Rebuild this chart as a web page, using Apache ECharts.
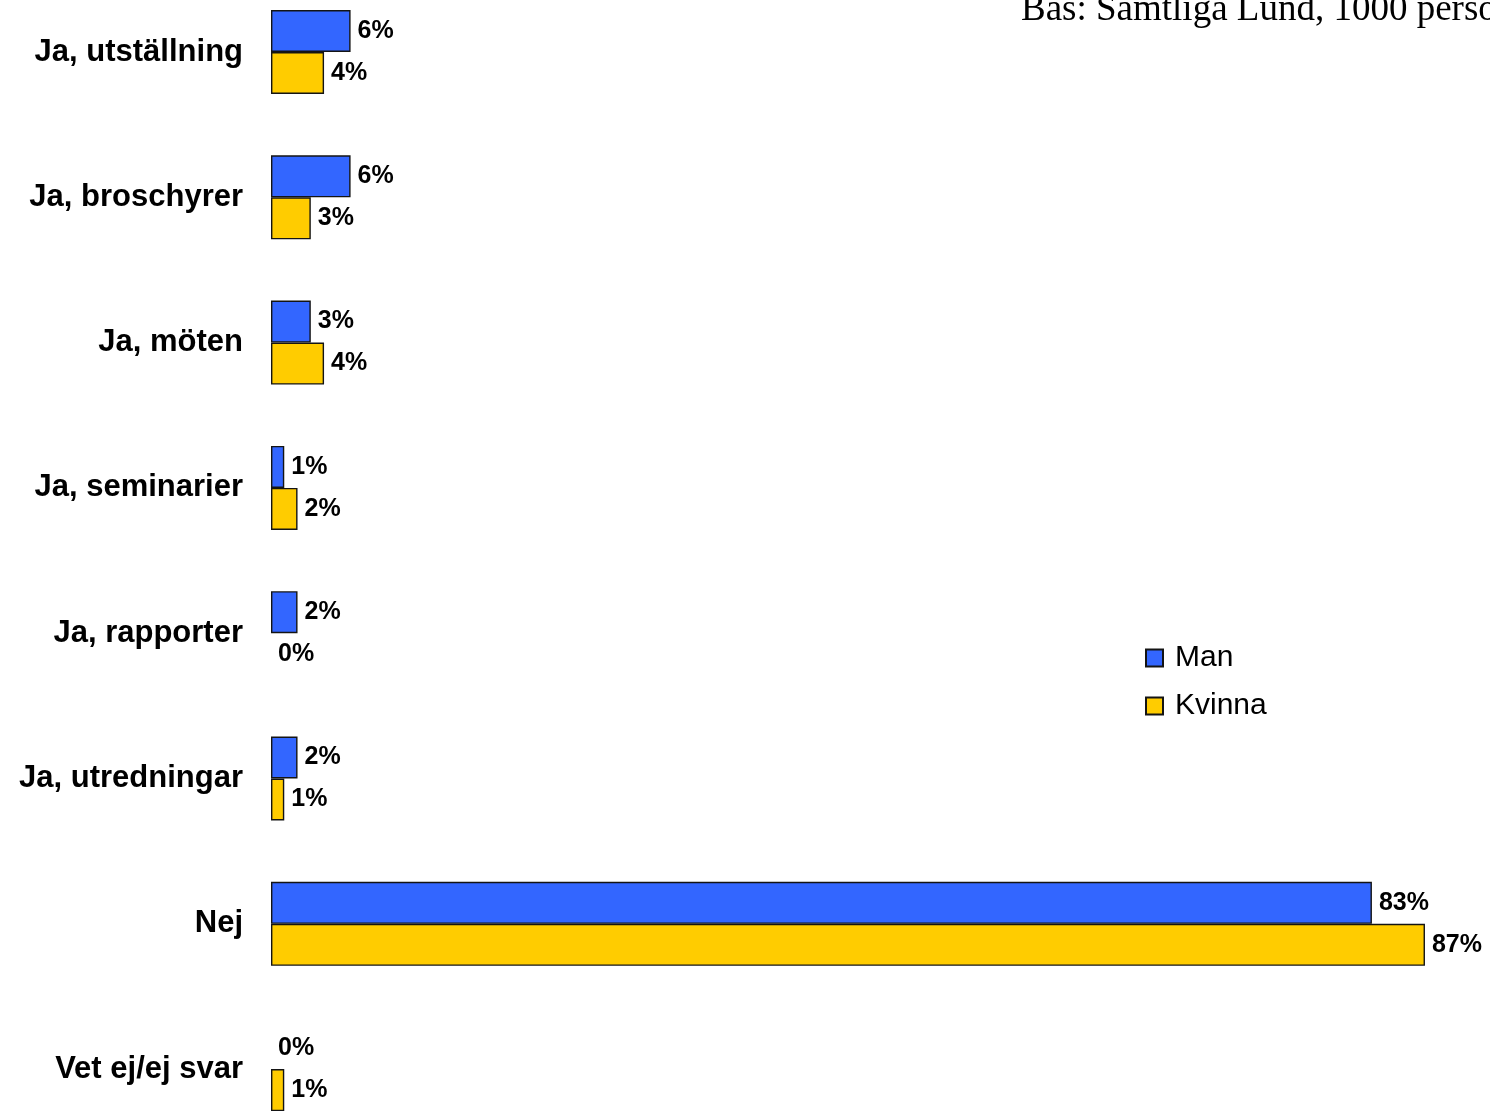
<!DOCTYPE html>
<html>
<head>
<meta charset="utf-8">
<script src="https://cdn.jsdelivr.net/npm/echarts@6/dist/echarts.min.js"></script>
<style>
  html, body { margin: 0; padding: 0; background: #fff; }
  #chart { width: 1490px; height: 1112px; }
</style>
</head>
<body>
<div id="chart"></div>
<script>
const categories = ['Ja, utställning', 'Ja, broschyrer', 'Ja, möten', 'Ja, seminarier', 'Ja, rapporter', 'Ja, utredningar', 'Nej', 'Vet ej/ej svar'];
const seriesNames = ['Man', 'Kvinna'];
const manValues = [6, 6, 3, 1, 2, 2, 83, 0];
const kvinnaValues = [4, 3, 4, 2, 0, 1, 87, 1];
const titleText = 'Bas: Samtliga Lund, 1000 personer';

const chart = echarts.init(document.getElementById('chart'), null, { renderer: 'canvas' });

const labelStyle = {
  show: true,
  position: 'right',
  distance: 7,
  formatter: '{c}%',
  color: '#000',
  fontFamily: 'Liberation Sans, Arial, sans-serif',
  fontWeight: 'bold',
  fontSize: 25
};

function toData(values) {
  return values.map(v => v === 0 ? { value: v, itemStyle: { borderWidth: 0 } } : v);
}

chart.setOption({
  animation: false,
  backgroundColor: '#ffffff',
  title: {
    text: titleText,
    left: 1021,
    top: -8,
    padding: 0,
    textStyle: {
      fontFamily: 'Liberation Serif, Times New Roman, serif',
      fontWeight: 'normal',
      fontSize: 37,
      color: '#000'
    }
  },
  legend: {
    orient: 'vertical',
    left: 1145,
    top: 643,
    padding: 0,
    itemWidth: 17,
    itemHeight: 17,
    itemGap: 18,
    icon: 'rect',
    data: seriesNames,
    textStyle: {
      fontFamily: 'Liberation Sans, Arial, sans-serif',
      fontSize: 30,
      color: '#000',
      padding: [0, 0, 0, 7]
    }
  },
  grid: {
    left: 271,
    top: -20.65,
    width: 1326.4,
    height: 1162.4,
    containLabel: false,
    outerBoundsMode: 'none'
  },
  xAxis: {
    type: 'value',
    min: 0,
    max: 100,
    show: false
  },
  yAxis: {
    type: 'category',
    data: categories,
    inverse: true,
    axisLine: { show: false },
    axisTick: { show: false },
    splitLine: { show: false },
    axisLabel: {
      margin: 28,
      color: '#000',
      fontFamily: 'Liberation Sans, Arial, sans-serif',
      fontWeight: 'bold',
      fontSize: 31
    }
  },
  series: [
    {
      name: seriesNames[0],
      type: 'bar',
      data: toData(manValues),
      barWidth: 42,
      barGap: '0%',
      itemStyle: { color: '#3366FF', borderColor: '#141414', borderWidth: 1.4 },
      label: labelStyle
    },
    {
      name: seriesNames[1],
      type: 'bar',
      data: toData(kvinnaValues),
      barWidth: 42,
      barGap: '0%',
      itemStyle: { color: '#FFCC00', borderColor: '#141414', borderWidth: 1.4 },
      label: labelStyle
    }
  ]
});
</script>
</body>
</html>
